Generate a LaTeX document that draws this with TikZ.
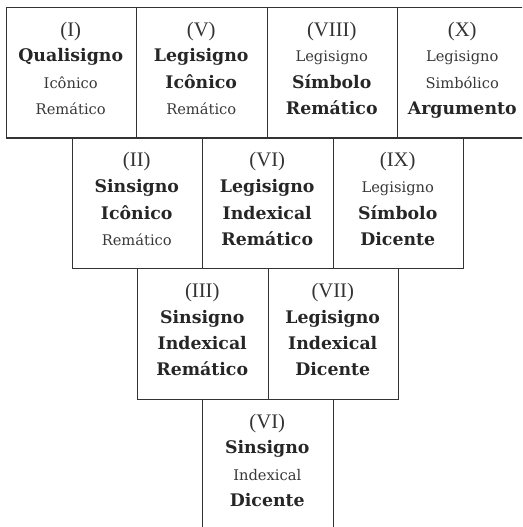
\documentclass[tikz,border=0pt]{standalone}
\usepackage{fontspec}
\setmainfont{DejaVu Serif}
\newfontfamily\numfont{Liberation Serif}
\definecolor{boxgray}{HTML}{333333}
\newcommand\bw{\bfseries\fontsize{13}{13}\selectfont\color{black!85}}
\newcommand\sw{\fontsize{11}{11}\selectfont\color{black!78}}
\tikzset{
  signbox/.style={draw=boxgray, line width=1.1pt, minimum width=97.875pt,
    minimum height=97.875pt, inner sep=0pt, anchor=north west},
  openbox/.style={signbox, minimum height=150pt},
  numtxt/.style={anchor=base, inner sep=0pt,
    font=\numfont\fontsize{15.5}{15.5}\selectfont, text=black!80},
  linetxt/.style={anchor=base, inner sep=0pt},
}
\newcommand\signcell[8]{%
  \node[#8] (#1) at (#2,#3) {};
  \node[numtxt] (#1-1) at (#2+65.25,#3+29.5) {#4};
  \node[linetxt] (#1-2) at (#2+65.25,#3+55) {#5};
  \node[linetxt] (#1-3) at (#2+65.25,#3+81.5) {#6};
  \node[linetxt] (#1-4) at (#2+65.25,#3+107.5) {#7};
}
\begin{document}
\begin{tikzpicture}[x=0.75pt,y=-0.75pt]
\useasboundingbox (0,0) rectangle (522,527);
\clip (0,0) rectangle (522,527);
% row 1
\signcell{s1}{5.5}{7}{(I)}{\bw Qualisigno}{\sw Icônico}{\sw Remático}{signbox}
\signcell{s5}{136}{7}{(V)}{\bw Legisigno}{\bw Icônico}{\sw Remático}{signbox}
\signcell{s8}{266.5}{7}{(VIII)}{\sw Legisigno}{\bw Símbolo}{\bw Remático}{signbox}
\signcell{s10}{397}{7}{(X)}{\sw Legisigno}{\sw Simbólico}{\bw Argumento}{signbox}
% row 2
\signcell{s2}{71.5}{137.5}{(II)}{\bw Sinsigno}{\bw Icônico}{\sw Remático}{signbox}
\signcell{s6}{202}{137.5}{(VI)}{\bw Legisigno}{\bw Indexical}{\bw Remático}{signbox}
\signcell{s9}{332.5}{137.5}{(IX)}{\sw Legisigno}{\bw Símbolo}{\bw Dicente}{signbox}
% row 3
\signcell{s3}{137}{268}{(III)}{\bw Sinsigno}{\bw Indexical}{\bw Remático}{signbox}
\signcell{s7}{267.5}{268}{(VII)}{\bw Legisigno}{\bw Indexical}{\bw Dicente}{signbox}
% row 4
\signcell{s4}{202}{398.5}{(VI)}{\bw Sinsigno}{\sw Indexical}{\bw Dicente}{openbox}
\end{tikzpicture}
\end{document}
